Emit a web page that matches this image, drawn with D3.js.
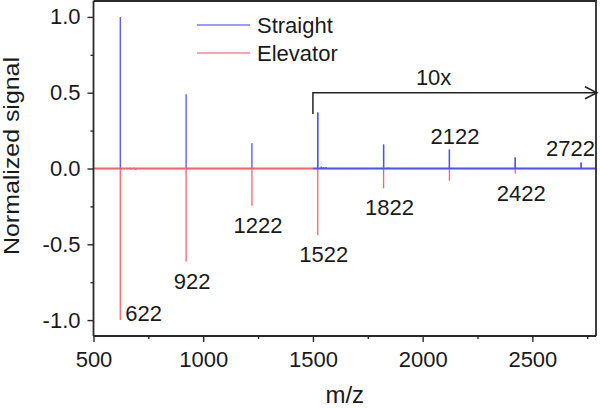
<!DOCTYPE html>
<html><head><meta charset="utf-8">
<script src="https://cdn.jsdelivr.net/npm/d3@7"></script>
<style>
body{margin:0;background:#fff}
svg{display:block}
text{font-family:Arial,"Liberation Sans",sans-serif;fill:#1a1a1a}
</style>
</head><body>
<svg id="c" width="600" height="408"></svg>
<script>
// ---- data ----
const seriesNames = ["Straight", "Elevator"];
const peakMz = [622, 922, 1222, 1522, 1822, 2122, 2422, 2722];
const straightValues = [1.0, 0.49, 0.167, 0.37, 0.158, 0.125, 0.072, 0.04];
const elevatorValues = [-1.0, -0.615, -0.245, -0.44, -0.13, -0.08, -0.035, -0.004];
const straightNoiseMz = [665, 672, 684, 693, 1020, 1262, 1538, 1548, 1560, 1843, 1858, 2143, 2160, 2442, 2462];
const straightNoise   = [0.006, -0.006, 0.006, -0.008, 0.003, 0.003, 0.012, 0.01, 0.008, 0.006, 0.005, 0.005, 0.005, 0.004, 0.004];
const elevatorNoiseMz = [640, 668, 688, 760, 830, 960, 1080, 1250, 1290];
const elevatorNoise   = [0.004, -0.006, -0.008, 0.003, 0.003, 0.004, 0.003, 0.004, 0.003];
const peakLabels = ["622", "922", "1222", "1522", "1822", "2122", "2422", "2722"];
const labelSide = ["right", "below", "below", "below", "below", "above", "below", "above"];
const xTicks = [500, 1000, 1500, 2000, 2500];
const xMinorTicks = [750, 1250, 1750, 2250, 2750];
const yTicks = [-1.0, -0.5, 0.0, 0.5, 1.0];
const yMinorTicks = [-0.75, -0.25, 0.25, 0.75];
const xDomain = [500, 2790];
const yDomain = [-1.105, 1.105];
const zoomStartMz = 1500;
const zoomArrowLow = 0.36, zoomArrowHigh = 0.5;
const zoomLabel = "10x", zoomLabelMz = 2050;
const xTitle = "m/z", yTitle = "Normalized signal";
const colors = ["#4f4fff", "#ff6070"];

// ---- layout ----
const m = {l: 93.5, r: 596, t: 1, b: 336};
const svg = d3.select("#c");
const x = d3.scaleLinear().domain(xDomain).range([m.l, m.r]);
const y = d3.scaleLinear().domain(yDomain).range([m.b, m.t]);

svg.append("defs").append("clipPath").attr("id", "plot")
  .append("rect").attr("x", m.l).attr("y", m.t).attr("width", m.r - m.l).attr("height", m.b - m.t);
svg.select("defs").append("clipPath").attr("id", "zoomed")
  .append("rect").attr("x", x(zoomStartMz)).attr("y", m.t).attr("width", m.r - x(zoomStartMz)).attr("height", m.b - m.t);

function spectrum(mzs, vals, nmz, nv) {
  const pts = [];
  mzs.forEach((d, i) => pts.push({mz: d, v: vals[i]}));
  nmz.forEach((d, i) => pts.push({mz: d, v: nv[i]}));
  pts.sort((a, b) => a.mz - b.mz);
  const out = [[xDomain[0], 0]];
  pts.forEach(p => { out.push([p.mz, 0], [p.mz, p.v], [p.mz, 0]); });
  out.push([xDomain[1], 0]);
  return out;
}
const line = d3.line().x(d => x(d[0])).y(d => y(d[1]));
const sData = spectrum(peakMz, straightValues, straightNoiseMz, straightNoise);
const eData = spectrum(peakMz, elevatorValues, elevatorNoiseMz, elevatorNoise);

const g = svg.append("g").attr("clip-path", "url(#plot)");
g.append("path").attr("d", line(sData)).attr("fill", "none").attr("stroke", colors[0]).attr("stroke-width", 1.3);
g.append("path").attr("d", line(eData)).attr("fill", "none").attr("stroke", colors[1]).attr("stroke-width", 1.3);
g.append("g").attr("clip-path", "url(#zoomed)")
  .append("path").attr("d", line(sData)).attr("fill", "none").attr("stroke", colors[0]).attr("stroke-width", 1.3);

// ---- axes ----
const axColor = "#2a2a2a";
const fs = "22px";
const xAx = svg.append("g").attr("transform", `translate(0,${m.b})`)
  .call(d3.axisBottom(x).tickValues(xTicks).tickSize(6).tickPadding(9).tickFormat(d3.format("d")));
svg.append("g").attr("transform", `translate(0,${m.b})`)
  .call(d3.axisBottom(x).tickValues(xMinorTicks).tickSize(3).tickFormat(""))
  .select(".domain").remove();
const yAx = svg.append("g").attr("transform", `translate(${m.l},0)`)
  .call(d3.axisLeft(y).tickValues(yTicks).tickSize(6).tickPadding(7).tickFormat(d => d.toFixed(1)));
svg.append("g").attr("transform", `translate(${m.l},0)`)
  .call(d3.axisLeft(y).tickValues(yMinorTicks).tickSize(3).tickFormat(""))
  .select(".domain").remove();
svg.selectAll(".tick text").attr("font-size", fs).attr("font-family", "Arial, 'Liberation Sans', sans-serif").attr("fill", "#1a1a1a");
svg.selectAll(".tick line").attr("stroke", axColor).attr("stroke-width", 1.4);
svg.selectAll(".domain").attr("stroke", axColor).attr("stroke-width", 1.8);
xAx.select(".domain").attr("d", `M${m.l},0H${m.r}`);
yAx.select(".domain").attr("d", `M0,${m.t}V${m.b}`);
// frame top & right
svg.append("path").attr("d", `M${m.l},${m.t}H${m.r}V${m.b}`).attr("fill", "none").attr("stroke", axColor).attr("stroke-width", 1.8);

// ---- titles ----
svg.append("text").attr("x", (m.l + m.r) / 2).attr("y", 403).attr("text-anchor", "middle")
  .attr("font-size", "24px").text(xTitle);
svg.append("text").attr("transform", `translate(19,156) rotate(-90)`).attr("text-anchor", "middle")
  .attr("font-size", "22px").attr("textLength", 198).attr("lengthAdjust", "spacingAndGlyphs").text(yTitle);

// ---- peak labels ----
peakMz.forEach((mz, i) => {
  const side = labelSide[i];
  const t = svg.append("text").attr("font-size", "22px").text(peakLabels[i]);
  if (side === "right") {
    t.attr("x", x(mz) + 5).attr("y", y(elevatorValues[i]) + 1).attr("text-anchor", "start");
  } else if (side === "below") {
    t.attr("x", x(mz) + 6).attr("y", y(elevatorValues[i]) + 27).attr("text-anchor", "middle");
  } else {
    t.attr("x", Math.min(x(mz) + 30, m.r - 1)).attr("y", y(straightValues[i]) - 6).attr("text-anchor", "end");
  }
});

// ---- zoom arrow ----
const ax0 = x(zoomStartMz), ay0 = y(zoomArrowLow), ay1 = y(zoomArrowHigh), ax1 = m.r + 1;
svg.append("path").attr("d", `M${ax0},${ay0}V${ay1}H${ax1}`).attr("fill", "none").attr("stroke", "#222").attr("stroke-width", 1.5);
svg.append("path").attr("d", `M${ax1 - 12},${ay1 - 6}L${ax1},${ay1}L${ax1 - 12},${ay1 + 6}`).attr("fill", "none").attr("stroke", "#222").attr("stroke-width", 1.5);
svg.append("text").attr("x", x(zoomLabelMz)).attr("y", ay1 - 8).attr("text-anchor", "middle").attr("font-size", "22px").text(zoomLabel);

// ---- legend ----
const lg = svg.append("g");
seriesNames.forEach((n, i) => {
  const yy = 25 + i * 28;
  lg.append("line").attr("x1", 197).attr("x2", 250).attr("y1", yy).attr("y2", yy)
    .attr("stroke", colors[i]).attr("stroke-width", 1.6).attr("opacity", 0.75);
  lg.append("text").attr("x", 257).attr("y", yy + 8).attr("font-size", "22px").text(n);
});
</script>
</body></html>
